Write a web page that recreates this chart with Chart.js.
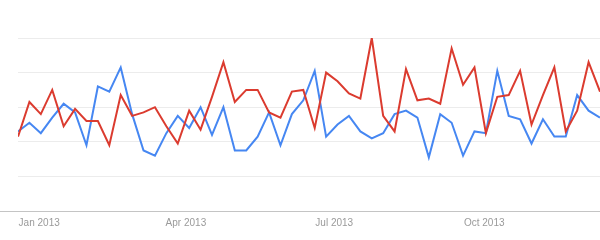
<!DOCTYPE html>
<html>
<head>
<meta charset="utf-8">
<script src="https://cdn.jsdelivr.net/npm/chart.js@4"></script>
<style>
  body { margin: 0; background: #fff; }
  canvas { display: block; }
</style>
</head>
<body>
<canvas id="trend" width="600" height="240"></canvas>
<script>
// weekly points, first week plotted mid-week (Wed 19 Dec 2012)
const startDate = [2012, 11, 19]
const weekCount = 52

const redValues = [43, 63, 56, 70, 49, 59, 52, 52, 38, 67,
  55, 57, 60, 49, 39, 58, 47, 66, 86, 63,
  70, 70, 57, 54, 69, 70, 48, 80, 75, 68,
  65, 100, 55, 46, 82, 64, 65, 62, 94, 73,
  83, 45, 66, 67, 81, 50, 67, 83, 46, 58,
  86, 69]

const blueValues = [46, 51, 45, 54, 62, 57, 38, 72, 69, 83,
  56, 35, 32, 45, 55, 48, 60, 44, 60, 35,
  35, 43, 57, 38, 56, 64, 81, 43, 50, 55,
  46, 42, 45, 56, 58, 54, 31, 56, 51, 32,
  46, 45, 81, 55, 53, 39, 53, 43, 43, 67,
  58, 54]

const tickMonths = [[2013, 0], [2013, 3], [2013, 6], [2013, 9]]
const tickLabels = ['Jan 2013', 'Apr 2013', 'Jul 2013', 'Oct 2013']

const DAY = 86400000
const dayNum = (y, m, d) => Date.UTC(y, m, d) / DAY
const firstDay = dayNum(...startDate)
const weekDays = []
for (let i = 0; i < weekCount; i++) weekDays.push(firstDay + 7 * i)
const tickDays = tickMonths.map(([y, m]) => dayNum(y, m, 1))

const toPoints = (vals) => vals.map((v, i) => ({ x: weekDays[i], y: v }))

// stretch the bottom axis line out to the left edge of the canvas
const baseLine = {
  id: 'baseLine',
  afterDraw(chart) {
    const { ctx, chartArea } = chart
    ctx.save()
    ctx.strokeStyle = '#c4c4c4'
    ctx.lineWidth = 1
    ctx.beginPath()
    ctx.moveTo(0, chartArea.bottom + 0.5)
    ctx.lineTo(chart.width, chartArea.bottom + 0.5)
    ctx.stroke()
    ctx.restore()
  }
}

const trendConfig = {
  type: 'line',
  data: {
    datasets: [
      {
        label: 'red',
        borderColor: '#db3b2f',
        borderWidth: 2,
        pointRadius: 0,
        tension: 0,
        data: toPoints(redValues),
      },
      {
        label: 'blue',
        borderColor: '#4687f2',
        borderWidth: 2,
        pointRadius: 0,
        tension: 0,
        data: toPoints(blueValues),
      },
    ],
  },
  options: {
    responsive: false,
    animation: false,
    layout: {
      padding: { top: 38, left: 18, right: 0, bottom: 5 },
    },
    plugins: {
      legend: { display: false },
      tooltip: { enabled: false },
    },
    scales: {
      x: {
        type: 'linear',
        min: weekDays[0],
        max: weekDays[weekCount - 1],
        grid: { display: false, drawTicks: false },
        border: { display: false },
        afterBuildTicks: (axis) => {
          axis.ticks = tickDays.map((d) => ({ value: d }))
        },
        ticks: {
          autoSkip: false,
          maxRotation: 0,
          padding: 6,
          color: '#9a9a9a',
          font: { family: 'Liberation Sans', size: 10 },
          callback: (value) => tickLabels[tickDays.indexOf(value)],
        },
      },
      y: {
        min: 0,
        max: 100,
        ticks: { display: false, stepSize: 20 },
        border: { display: false },
        grid: { color: '#ececec', drawTicks: false },
      },
    },
  },
  plugins: [baseLine],
}

new Chart(document.getElementById('trend'), trendConfig)
</script>
</body>
</html>
